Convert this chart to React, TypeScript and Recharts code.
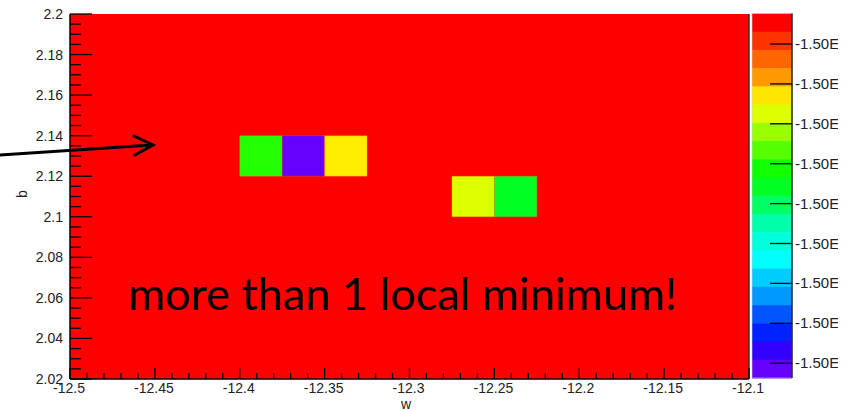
import React from 'react';
import { ScatterChart, Scatter, XAxis, YAxis, ReferenceArea, ReferenceLine } from 'recharts';

// ---- data ----
const xMajorTicks = [-12.5, -12.45, -12.4, -12.35, -12.3, -12.25, -12.2, -12.15, -12.1];
const xTickLabels = ['-12.5', '-12.45', '-12.4', '-12.35', '-12.3', '-12.25', '-12.2', '-12.15', '-12.1'];
const yMajorTicks = [2.02, 2.04, 2.06, 2.08, 2.1, 2.12, 2.14, 2.16, 2.18, 2.2];
const yTickLabels = ['2.02', '2.04', '2.06', '2.08', '2.1', '2.12', '2.14', '2.16', '2.18', '2.2'];
const xDomain = [-12.5, -12.1];
const yDomain = [2.02, 2.2];
const binWidth = 0.025;
const binHeight = 0.02;
// colored bins (lower-left corners) on top of the flat red background
const cellW = [-12.4, -12.375, -12.35, -12.275, -12.25];
const cellB = [2.12, 2.12, 2.12, 2.1, 2.1];
const cellColors = ['#22ff00', '#6600ff', '#ffee00', '#ddff00', '#00ff22'];
const backgroundColor = '#ff0000';
// colour palette bands, top to bottom
const paletteColors = [
  '#ff0000', '#ff3300', '#ff6600', '#ff9900', '#ffe600',
  '#ddff00', '#99ff00', '#55ff00', '#11ff00', '#00ff22',
  '#00ff66', '#00ffaa', '#00ffdd', '#00ffff', '#00ccff',
  '#0099ff', '#0055ff', '#0022ff', '#3300ff', '#6600ff',
];
const paletteLabels = ['-1.50E+02', '-1.50E+02', '-1.50E+02', '-1.50E+02', '-1.50E+02', '-1.50E+02', '-1.50E+02', '-1.50E+02', '-1.50E+02'];
const annotation = 'more than 1 local minimum!';
const xTitle = 'w';
const yTitle = 'b';

// minor ticks: subdivide major intervals
const subdivide = (majors: number[], n: number) => {
  const out: number[] = [];
  for (let i = 0; i < majors.length - 1; i++) {
    for (let k = 1; k < n; k++) out.push(majors[i] + ((majors[i + 1] - majors[i]) * k) / n);
  }
  return out;
};
const xTicks = [...xMajorTicks, ...subdivide(xMajorTicks, 5)];
const yTicks = [...yMajorTicks, ...subdivide(yMajorTicks, 4)];

const cells = cellW.map((w, i) => ({ w, b: cellB[i], color: cellColors[i] }));

const FONT = '"Liberation Sans", Arial, sans-serif';

const majorIndex = (arr: number[], v: number) => arr.findIndex((t) => Math.abs(t - v) < 1e-9);

const XTick = (props: any) => {
  const { x, y, payload } = props;
  const idx = majorIndex(xMajorTicks, payload.value);
  const major = idx >= 0;
  return (
    <g>
      <line x1={x} x2={x} y1={y} y2={y - (major ? 11 : 6)} stroke="#000" strokeWidth={1.3} />
      {major && (
        <text x={x - 1} y={y + 14} textAnchor="middle" fontFamily={FONT} fontSize={14} fill="#222">
          {xTickLabels[idx]}
        </text>
      )}
    </g>
  );
};

const YTick = (props: any) => {
  const { x, y, payload } = props;
  const idx = majorIndex(yMajorTicks, payload.value);
  const major = idx >= 0;
  return (
    <g>
      <line x1={x} x2={x + (major ? 22 : 11)} y1={y} y2={y} stroke="#000" strokeWidth={1.3} />
      {major && (
        <text x={x - 7} y={y + 5} textAnchor="end" fontFamily={FONT} fontSize={14} fill="#222">
          {yTickLabels[idx]}
        </text>
      )}
    </g>
  );
};

export default function App() {
  const barX = 752;
  const barTop = 13.5;
  const barBottom = 378;
  const barW = 40;
  const band = (barBottom - barTop) / paletteColors.length;
  const tick0 = 44;
  const tickStep = 39.9;
  return (
    <div style={{ position: 'absolute', left: 0, top: 0, width: 848, height: 411, background: '#fff' }}>
      <ScatterChart width={848} height={411} margin={{ top: 14, right: 99, bottom: 0, left: 0 }}>
        <XAxis
          type="number"
          dataKey="w"
          domain={xDomain}
          ticks={xTicks}
          interval={0}
          allowDataOverflow
          height={32}
          tickSize={0}
          tickMargin={0}
          tickLine={false}
          axisLine={{ stroke: '#000', strokeWidth: 1.5 }}
          tick={<XTick />}
        />
        <YAxis
          type="number"
          dataKey="b"
          domain={yDomain}
          ticks={yTicks}
          interval={0}
          allowDataOverflow
          width={70}
          tickSize={0}
          tickMargin={0}
          tickLine={false}
          axisLine={{ stroke: '#000', strokeWidth: 1.5 }}
          tick={<YTick />}
        />
        <ReferenceArea
          x1={xDomain[0]}
          x2={xDomain[1]}
          y1={yDomain[0]}
          y2={yDomain[1]}
          fill={backgroundColor}
          fillOpacity={1}
          stroke="none"
        />
        {cells.map((c, i) => (
          <ReferenceArea
            key={i}
            x1={c.w}
            x2={c.w + binWidth}
            y1={c.b}
            y2={c.b + binHeight}
            fill={c.color}
            fillOpacity={1}
            stroke="#ff8800"
            strokeOpacity={0.35}
            strokeWidth={0.8}
          />
        ))}
        <ReferenceLine x={xDomain[1]} stroke="#333" strokeWidth={1.5} />
        <Scatter data={cells} isAnimationActive={false} shape={() => <g />} />
      </ScatterChart>
      <svg
        width={848}
        height={411}
        style={{ position: 'absolute', left: 0, top: 0, pointerEvents: 'none' }}
      >
        <defs>
          <clipPath id="cut">
            <rect x={0} y={0} width={838} height={411} />
          </clipPath>
        </defs>
        {paletteColors.map((c, i) => (
          <rect key={i} x={barX} y={barTop + i * band} width={barW} height={band + 0.5} fill={c} />
        ))}
        <rect x={barX} y={barTop} width={barW} height={barBottom - barTop} fill="none" stroke="#ccc" strokeWidth={0.6} />
        <line x1={barX + barW} x2={barX + barW} y1={barTop} y2={barBottom} stroke="#222" strokeWidth={1.5} />
        <g clipPath="url(#cut)">
          {paletteLabels.map((l, i) => (
            <g key={i}>
              <line
                x1={barX + barW - 22}
                x2={barX + barW}
                y1={tick0 + i * tickStep}
                y2={tick0 + i * tickStep}
                stroke="#000"
                strokeWidth={1.3}
              />
              <text x={795} y={tick0 + i * tickStep + 5} fontFamily={FONT} fontSize={15} fill="#222">
                {l}
              </text>
            </g>
          ))}
        </g>
        <text x={406} y={409} textAnchor="middle" fontFamily={FONT} fontSize={14} fill="#222">
          {xTitle}
        </text>
        <text
          x={27}
          y={194}
          textAnchor="middle"
          fontFamily={FONT}
          fontSize={14}
          fill="#222"
          transform="rotate(-90 27 194)"
        >
          {yTitle}
        </text>
        <text
          x={128}
          y={310}
          fontFamily="Lato, 'Open Sans', sans-serif"
          fontSize={44}
          fill="#000"
          textLength={549}
          lengthAdjust="spacingAndGlyphs"
        >
          {annotation}
        </text>
        <line x1={0} y1={155} x2={152} y2={145} stroke="#000" strokeWidth={3} strokeLinecap="round" />
        <polyline
          points="134,136 153,145 135,155"
          fill="none"
          stroke="#000"
          strokeWidth={3}
          strokeLinecap="round"
          strokeLinejoin="miter"
        />
      </svg>
    </div>
  );
}
